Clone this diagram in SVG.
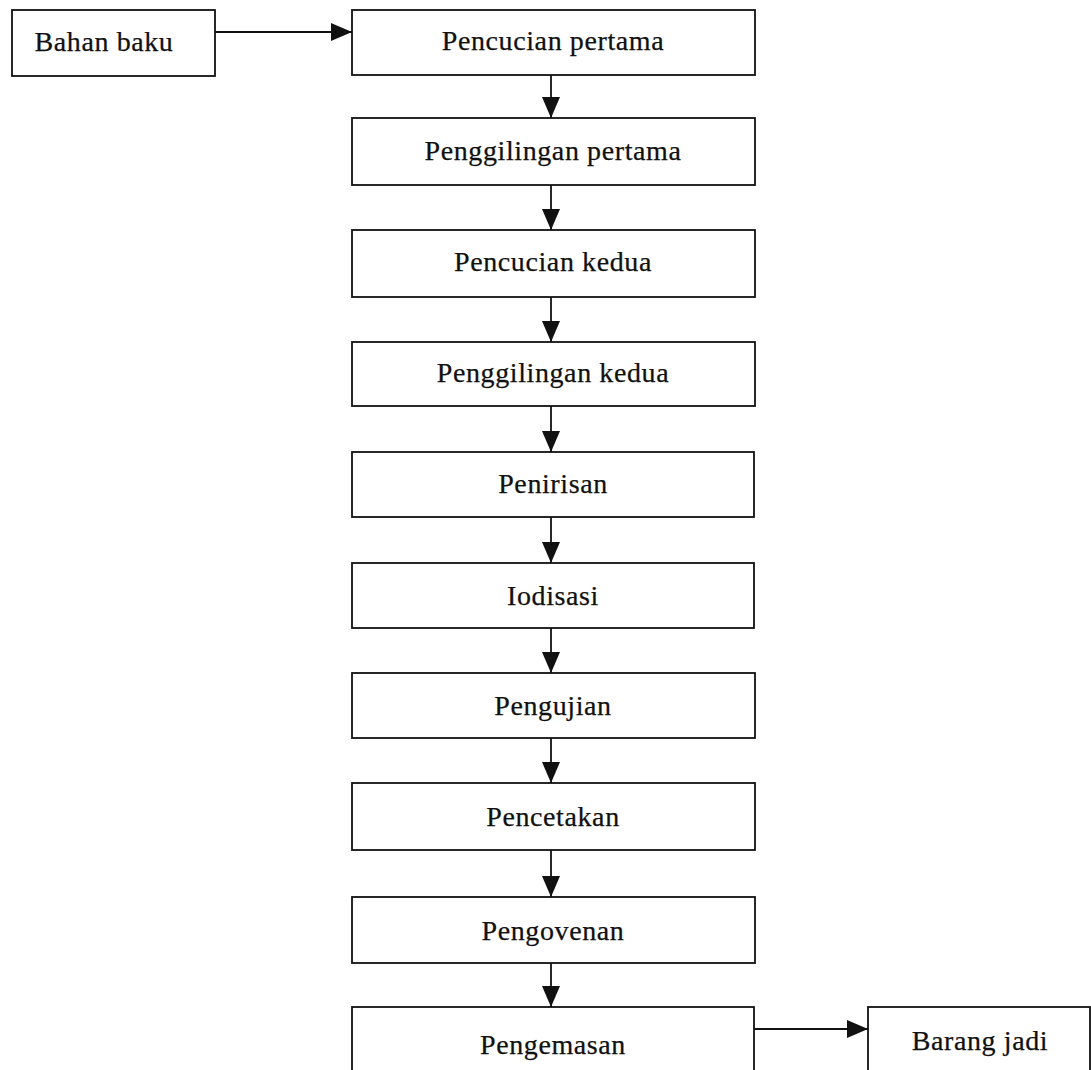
<svg xmlns="http://www.w3.org/2000/svg" width="1091" height="1070" viewBox="0 0 1091 1070">
<style>
.box{fill:#fff;stroke:#111;stroke-width:1.8}
.lbl{font-family:"Liberation Serif","Times New Roman",serif;font-size:28px;letter-spacing:0.6px;fill:#111;stroke:#111;stroke-width:0.25;text-anchor:middle}
.con{stroke:#111;stroke-width:1.8;fill:none}
</style>
<defs>
<marker id="ah" markerUnits="userSpaceOnUse" markerWidth="22" markerHeight="18" viewBox="0 0 22 18" refX="21" refY="9" orient="auto">
<path d="M0,0 L21,9 L0,18 Z" fill="#111"/>
</marker>
</defs>
<rect width="1091" height="1070" fill="#fff"/>
<g id="n-bahan"><rect class="box" x="12" y="10" width="203" height="66"/><text class="lbl" x="104" y="51">Bahan baku</text></g>
<g id="n1"><rect class="box" x="352" y="10" width="403" height="65"/><text class="lbl" x="553" y="50">Pencucian pertama</text></g>
<g id="n2"><rect class="box" x="352" y="118" width="403" height="67"/><text class="lbl" x="553" y="160">Penggilingan pertama</text></g>
<g id="n3"><rect class="box" x="352" y="230" width="403" height="67"/><text class="lbl" x="553" y="271">Pencucian kedua</text></g>
<g id="n4"><rect class="box" x="352" y="342" width="403" height="64"/><text class="lbl" x="553" y="382">Penggilingan kedua</text></g>
<g id="n5"><rect class="box" x="352" y="452" width="402" height="65"/><text class="lbl" x="553" y="493">Penirisan</text></g>
<g id="n6"><rect class="box" x="352" y="563" width="402" height="65"/><text class="lbl" x="553" y="605">Iodisasi</text></g>
<g id="n7"><rect class="box" x="352" y="673" width="403" height="65"/><text class="lbl" x="553" y="715">Pengujian</text></g>
<g id="n8"><rect class="box" x="352" y="783" width="403" height="67"/><text class="lbl" x="553" y="826">Pencetakan</text></g>
<g id="n9"><rect class="box" x="352" y="897" width="403" height="66"/><text class="lbl" x="553" y="940">Pengovenan</text></g>
<g id="n10"><rect class="box" x="352" y="1007" width="402" height="75"/><text class="lbl" x="553" y="1054">Pengemasan</text></g>
<g id="n-barang"><rect class="box" x="868" y="1007" width="222" height="75"/><text class="lbl" x="980" y="1050">Barang jadi</text></g>
<g id="connectors">
<line class="con" x1="215" y1="32" x2="352" y2="32" marker-end="url(#ah)"/>
<line class="con" x1="551" y1="75" x2="551" y2="118" marker-end="url(#ah)"/>
<line class="con" x1="551" y1="185" x2="551" y2="230" marker-end="url(#ah)"/>
<line class="con" x1="551" y1="297" x2="551" y2="342" marker-end="url(#ah)"/>
<line class="con" x1="551" y1="406" x2="551" y2="452" marker-end="url(#ah)"/>
<line class="con" x1="551" y1="517" x2="551" y2="563" marker-end="url(#ah)"/>
<line class="con" x1="551" y1="628" x2="551" y2="673" marker-end="url(#ah)"/>
<line class="con" x1="551" y1="738" x2="551" y2="783" marker-end="url(#ah)"/>
<line class="con" x1="551" y1="850" x2="551" y2="897" marker-end="url(#ah)"/>
<line class="con" x1="551" y1="963" x2="551" y2="1007" marker-end="url(#ah)"/>
<line class="con" x1="754" y1="1029" x2="868" y2="1029" marker-end="url(#ah)"/>
</g>
</svg>
